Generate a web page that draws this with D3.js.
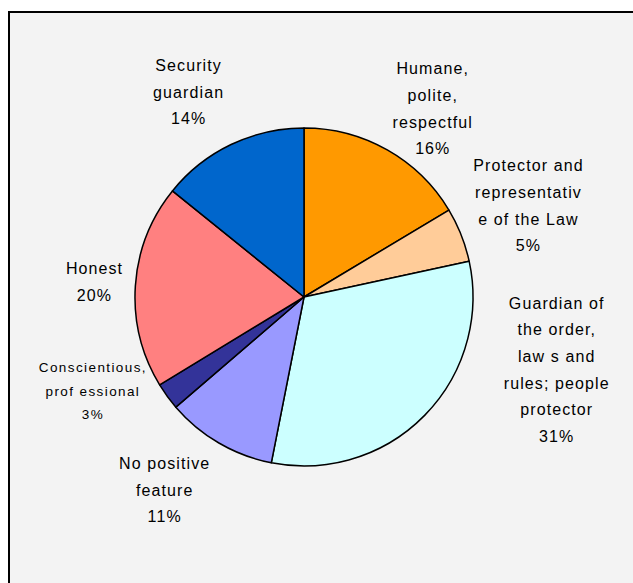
<!DOCTYPE html>
<html>
<head>
    <meta charset="utf-8">
    <script src="https://cdn.jsdelivr.net/npm/d3@7"></script>
    <style>
        body { margin: 0; background: #ffffff; }
    </style>
</head>
<body>
    <svg width="633" height="583" id="mainSvg"></svg>
    <script>
        // slice data, clockwise from 12 o'clock
        const categories = [
            ["Humane,", "polite,", "respectful"],
            ["Protector and", "representativ", "e of the Law"],
            ["Guardian of", "the order,", "law s and", "rules; people", "protector"],
            ["No positive", "feature"],
            ["Conscientious,", "prof essional"],
            ["Honest"],
            ["Security", "guardian"]
        ];
        const values = [16.4, 5.2, 31.5, 10.6, 2.6, 19.5, 14.2];
        const percentLabels = ["16%", "5%", "31%", "11%", "3%", "20%", "14%"];
        const colors = ["#FF9900", "#FFCC99", "#CCFFFF", "#9999FF", "#333399", "#FF8080", "#0066CC"];

        // label nudges relative to the label ring (Excel moves some labels)
        const labelNudge = [[13, 16], [6, -5], [85, -92], [-21, -10], [-21, -44], [25, 0], [-14, 7]];

        const svg = d3.select("#mainSvg");
        const cx = 304, cy = 297, radius = 169;

        // chart area frame
        svg.append("rect")
            .attr("x", 9).attr("y", 12)
            .attr("width", 700).attr("height", 700)
            .attr("fill", "#f3f3f3")
            .attr("stroke", "#000").attr("stroke-width", 2);

        const g = svg.append("g").attr("transform", `translate(${cx},${cy})`);

        const pie = d3.pie().sort(null).value(d => d);
        const arcs = pie(values);
        const arc = d3.arc().innerRadius(0).outerRadius(radius);
        const labelArc = d3.arc().innerRadius(235).outerRadius(235);

        g.selectAll("path.slice")
            .data(arcs)
            .join("path")
            .attr("class", "slice")
            .attr("d", arc)
            .attr("fill", (d, i) => colors[i])
            .attr("stroke", "#000")
            .attr("stroke-width", 1.5)
            .attr("stroke-linejoin", "round");

        arcs.forEach((d, i) => {
            const [lx, ly] = labelArc.centroid(d);
            const x = lx + labelNudge[i][0];
            const y = ly + labelNudge[i][1];
            const lines = categories[i].concat([percentLabels[i]]);
            const small = i === 4;
            const fs = small ? 13.5 : 16;
            const lh = small ? 23.5 : 26.7;
            const t = g.append("text")
                .attr("text-anchor", "middle")
                .attr("font-family", "'Liberation Sans', Arial, sans-serif")
                .attr("font-size", fs)
                .attr("letter-spacing", small ? 1.4 : 1.1)
                .attr("fill", "#000");
            lines.forEach((line, k) => {
                t.append("tspan")
                    .attr("x", x)
                    .attr("y", y + (k - (lines.length - 1) / 2) * lh)
                    .attr("dy", "0.36em")
                    .text(line);
            });
        });
    </script>
</body>
</html>
